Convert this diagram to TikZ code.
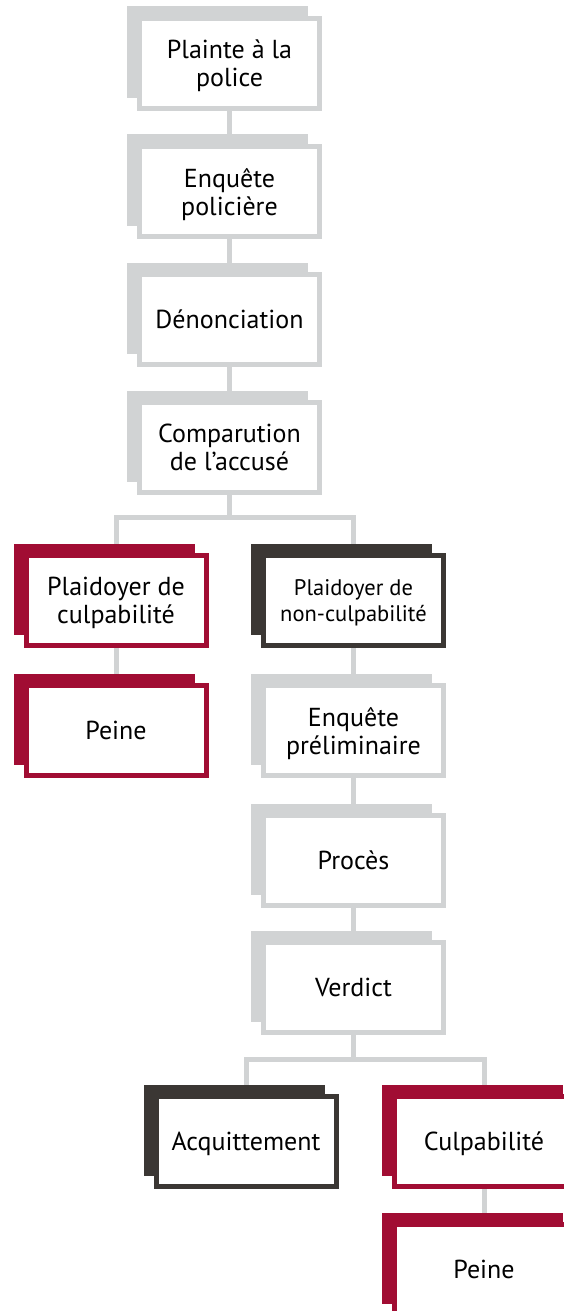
\documentclass[tikz,border=0pt]{standalone}
\usepackage{fontspec}
\setmainfont{PT Sans}
\usetikzlibrary{backgrounds}
\definecolor{lgray}{HTML}{D1D3D4}
\definecolor{cred}{HTML}{A10D33}
\definecolor{cdark}{HTML}{3B3734}
\tikzset{
  front/.style={draw=#1, line width=5pt, fill=white, minimum width=180pt, minimum height=90pt,
    inner sep=0pt, align=center, font=\fontsize{26}{28}\selectfont, text=black, text depth=-3pt},
  smalltext/.style={font=\fontsize{22.5}{26}\selectfont},
  link/.style={draw=lgray, line width=5pt},
}
\newcommand{\flowbox}[6][]{%
  \fill[#5] (#3-102.5,#4-57) rectangle (#3+78.5,#4+34.5);
  \node[front=#5,#1] (#2) at (#3,#4) {#6};
}
\begin{document}
\begin{tikzpicture}[x=1pt,y=-1pt]
\useasboundingbox (0,0) rectangle (564,1311);
\clip (0,0) rectangle (564,1311);
\flowbox{b1}{229.5}{63.5}{lgray}{Plainte à la\\police}
\flowbox{b2}{229.5}{191.5}{lgray}{Enquête\\policière}
\flowbox{b3}{229.5}{319.5}{lgray}{Dénonciation}
\flowbox{b4}{229.5}{447.5}{lgray}{Comparution\\de l’accusé}
\flowbox{l1}{116}{600.5}{cred}{Plaidoyer de\\culpabilité}
\flowbox{l2}{116}{730.5}{cred}{Peine}
\flowbox[smalltext]{r1}{353.5}{600.5}{cdark}{Plaidoyer de\\non-culpabilité}
\flowbox{r2}{353.5}{730.5}{lgray}{Enquête\\préliminaire}
\flowbox{r3}{353.5}{860.5}{lgray}{Procès}
\flowbox{r4}{353.5}{987.5}{lgray}{Verdict}
\flowbox{v1}{246}{1141.5}{cdark}{Acquittement}
\flowbox{v2}{484}{1141.5}{cred}{Culpabilité}
\flowbox{v3}{484}{1269.5}{cred}{Peine}
\coordinate (j1) at (229.5,517.5);
\coordinate (j2) at (353.5,1059);
\begin{pgfonlayer}{background}
\draw[link] (b1) -- (b2);
\draw[link] (b2) -- (b3);
\draw[link] (b3) -- (b4);
\draw[link] (b4) -- (j1);
\draw[link] (l1) |- (j1);
\draw[link] (r1) |- (j1);
\draw[link] (l1) -- (l2);
\draw[link] (r1) -- (r2);
\draw[link] (r2) -- (r3);
\draw[link] (r3) -- (r4);
\draw[link] (r4) -- (j2);
\draw[link] (v1) |- (j2);
\draw[link] (v2) |- (j2);
\draw[link] (v2) -- (v3);
\end{pgfonlayer}
\end{tikzpicture}
\end{document}
